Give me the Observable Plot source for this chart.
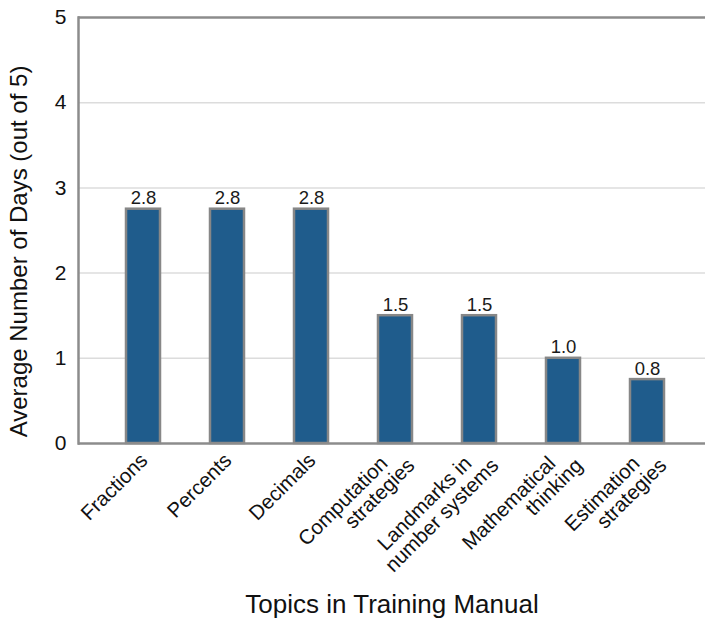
<!DOCTYPE html>
<html>
<head>
<meta charset="utf-8">
<script src="https://cdn.jsdelivr.net/npm/d3@7"></script>
<script src="https://cdn.jsdelivr.net/npm/@observablehq/plot@0.6"></script>
<style>
  html, body { margin: 0; padding: 0; background: #fff; }
  #chart svg { display: block; }
</style>
</head>
<body>
<div id="chart"></div>
<script>
// Data
const topics = ["Fractions", "Percents", "Decimals", "Computation strategies", "Landmarks in number systems", "Mathematical thinking", "Estimation strategies"];
const tickLine1 = ["Fractions", "Percents", "Decimals", "Computation", "Landmarks in", "Mathematical", "Estimation"];
const tickLine2 = ["", "", "", "strategies", "number systems", "thinking", "strategies"];
const days = [2.75, 2.75, 2.75, 1.5, 1.5, 1.0, 0.75];
const valueLabels = ["2.8", "2.8", "2.8", "1.5", "1.5", "1.0", "0.8"];
const yTicks = [0, 1, 2, 3, 4, 5];
const gridTicks = [1, 2, 3, 4];
const yTitle = "Average Number of Days (out of 5)";
const xTitle = "Topics in Training Manual";

const rows = topics.map((t, i) => ({topic: t, days: days[i], label: valueLabels[i], line1: tickLine1[i], line2: tickLine2[i]}));
const singles = rows.filter(d => !d.line2);
const doubles = rows.filter(d => d.line2);

const font = "Liberation Sans, Arial, Helvetica, sans-serif";
const axisGray = "#8c8c8c";

const chart = Plot.plot({
  width: 705,
  height: 622,
  marginTop: 17,
  marginBottom: 179,
  marginLeft: 78,
  marginRight: 0,
  style: {fontFamily: font, color: "#111", background: "#fff"},
  x: {domain: topics, axis: null, paddingInner: 0.59, paddingOuter: 0.295, insetLeft: 22.5, insetRight: 16},
  y: {domain: [0, 5], axis: null},
  marks: [
    Plot.gridY(gridTicks, {stroke: "#dcdcdc", strokeOpacity: 1, strokeWidth: 1.5}),
    Plot.barY(rows, {x: "topic", y: "days", fill: "#1f5c8c", stroke: "#878787", strokeWidth: 2.5}),
    Plot.text(rows, {x: "topic", y: "days", text: "label", lineAnchor: "bottom", dy: -5, fontSize: 18.5, fill: "#1a1a1a"}),
    Plot.ruleY([5], {stroke: axisGray, strokeWidth: 2.5}),
    Plot.ruleY([0], {stroke: axisGray, strokeWidth: 2.5}),
    Plot.frame({anchor: "left", stroke: axisGray, strokeWidth: 2.5}),
    Plot.axisY(yTicks, {tickSize: 0, tickPadding: 12, fontSize: 21, label: null, fill: "#111", tickFormat: d => String(d)}),
    // x tick labels (rotated)
    Plot.text(singles, {x: "topic", frameAnchor: "bottom", text: "line1", rotate: -45, textAnchor: "end", lineAnchor: "top", dx: -5, dy: 8, fontSize: 20.5, fill: "#111"}),
    Plot.text(doubles, {x: "topic", frameAnchor: "bottom", text: "line1", rotate: -45, textAnchor: "end", lineAnchor: "top", dx: -17, dy: 11, fontSize: 20.5, fill: "#111"}),
    Plot.text(doubles, {x: "topic", frameAnchor: "bottom", text: "line2", rotate: -45, textAnchor: "end", lineAnchor: "top", dx: 10, dy: 13, fontSize: 20.5, fill: "#111"}),
    // axis titles
    Plot.text([yTitle], {frameAnchor: "left", text: d => d, rotate: -90, textAnchor: "middle", lineAnchor: "middle", dx: -59, dy: 21, fontSize: 24, fill: "#111"}),
    Plot.text([xTitle], {frameAnchor: "bottom", text: d => d, textAnchor: "middle", lineAnchor: "middle", dy: 161, fontSize: 26, fill: "#111"})
  ]
});
document.getElementById("chart").appendChild(chart);
</script>
</body>
</html>
